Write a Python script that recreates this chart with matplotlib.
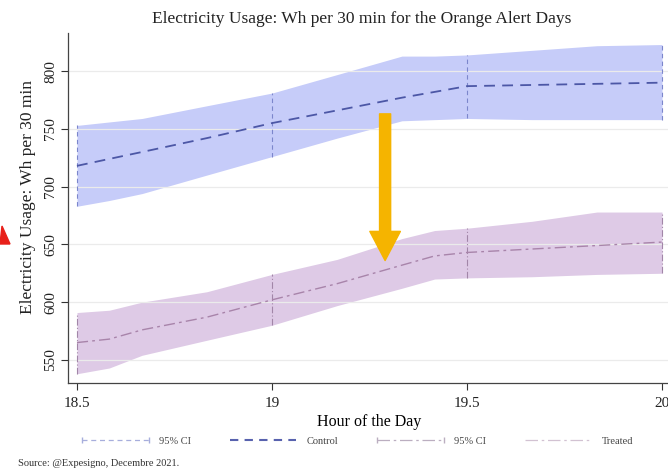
import numpy as np
import matplotlib
matplotlib.use("Agg")
import matplotlib.pyplot as plt
from matplotlib.lines import Line2D
from matplotlib.patches import Polygon

plt.rcParams['font.family'] = ['Liberation Serif', 'DejaVu Serif']

# Data (Wh per 30 min)
hours = [18.5, 18.583, 18.667, 18.833, 19.0, 19.167, 19.333, 19.417, 19.5, 19.667, 19.833, 20.0]

control_mean = [718, 724, 730, 742, 755, 766, 777, 782, 787, 788, 789, 790]
control_upper = [753, 756, 759, 770, 781, 797, 813, 813, 814, 818, 822, 823]
control_lower = [683, 688, 694, 710, 726, 742, 757, 758, 759, 758, 758, 758]

treated_mean = [565, 568, 576, 587, 602, 616, 632, 640, 643, 646, 649, 652]
treated_upper = [591, 593, 600, 609, 624, 637, 655, 662, 664, 670, 678, 678]
treated_lower = [538, 543, 554, 567, 580, 597, 612, 620, 621, 622, 624, 625]

cap_hours = [18.5, 19.0, 19.5, 20.0]
x_ticks = [18.5, 19, 19.5, 20]
x_tick_labels = ['18.5', '19', '19.5', '20']
y_ticks = [550, 600, 650, 700, 750, 800]

title = "Electricity Usage: Wh per 30 min for the Orange Alert Days"
source = "Source: @Expesigno, Decembre 2021."

# colours
ctrl_fill = '#C6CCF9'
ctrl_line = '#4C57A6'
ctrl_cap = '#7C86CC'
trt_fill = '#DECAE6'
trt_line = '#A884AA'
trt_cap = '#A286A8'

W, H = 668, 472
fig = plt.figure(figsize=(W / 100, H / 100), dpi=100)
ax = fig.add_axes([68 / W, 1 - 383 / H, (671 - 68) / W, (383 - 33) / H])

h = np.array(hours)
cap_idx = [int(np.argmin(np.abs(h - c))) for c in cap_hours]

ax.fill_between(hours, control_lower, control_upper, color=ctrl_fill, lw=0, zorder=1)
ax.fill_between(hours, treated_lower, treated_upper, color=trt_fill, lw=0, zorder=1)

# grid over the bands, like the original
for yt in y_ticks:
    ax.axhline(yt, color='#EBEBEB', lw=0.9, zorder=1.5)

ax.vlines([hours[i] for i in cap_idx], [control_lower[i] for i in cap_idx],
          [control_upper[i] for i in cap_idx], colors=ctrl_cap, linestyles=(0, (4, 3)), lw=0.8, zorder=2)
ax.vlines([hours[i] for i in cap_idx], [treated_lower[i] for i in cap_idx],
          [treated_upper[i] for i in cap_idx], colors=trt_cap, linestyles=(0, (6, 2, 1, 2)), lw=0.8, zorder=2)

ax.plot(hours, control_mean, color=ctrl_line, lw=1.3, ls=(0, (6, 4)), zorder=3)
ax.plot(hours, treated_mean, color=trt_line, lw=1.0, ls=(0, (8, 3, 2, 3)), zorder=3)

# orange arrow
ax.annotate('', xy=(19.29, 636), xytext=(19.29, 763),
            arrowprops=dict(width=8, headwidth=22, headlength=21, color='#F5B400', shrink=0),
            zorder=4)

ax.set_xlim(18.477, 20.023)
ax.set_ylim(530, 833)
ax.set_xticks(x_ticks)
ax.set_xticklabels(x_tick_labels, fontsize=11)
ax.set_yticks(y_ticks)
ax.set_yticklabels([str(v) for v in y_ticks], fontsize=11, rotation=90, va='center')
ax.tick_params(axis='both', direction='out', length=5, width=0.8, colors='#333333', labelcolor='#222222')
ax.tick_params(axis='x', pad=5)
ax.tick_params(axis='y', pad=3)
for s in ['top', 'right']:
    ax.spines[s].set_visible(False)
for s in ['left', 'bottom']:
    ax.spines[s].set_color('#444444')
    ax.spines[s].set_linewidth(0.9)

ax.set_xlabel('Hour of the Day', fontsize=11.5, labelpad=3)
ax.set_ylabel('Electricity Usage: Wh per 30 min', fontsize=12.5, color='#222222')
ax.yaxis.set_label_coords(-(68 - 36) / (671 - 68), (383 - 197) / (383 - 33))

fig.text(362 / W, 1 - 19 / H, title, fontsize=12.5, ha='center', va='center', color='#222222')

handles = [
    Line2D([0], [0], color='#A7AEDC', lw=0.9, ls=(0, (4, 3)), marker='|', markersize=4),
    Line2D([0], [0], color='#5862AE', lw=1.5, ls=(0, (4, 3))),
    Line2D([0], [0], color='#BBAEC0', lw=0.9, ls=(0, (10, 3, 2, 3)), marker='|', markersize=4),
    Line2D([0], [0], color='#D2C2D2', lw=0.9, ls=(0, (10, 3, 2, 3))),
]
labels = ['95% CI', 'Control', '95% CI', 'Treated']
fig.legend(handles, labels, loc='center', bbox_to_anchor=(356 / W, 1 - 441 / H), ncol=4,
           frameon=False, fontsize=7.5, numpoints=2, handlelength=7, handletextpad=0.7,
           columnspacing=3.4, labelcolor='#444444')

fig.text(18 / W, 1 - 463 / H, source, fontsize=7.5, ha='left', va='center', color='#333333')

# red arrow fragment at left edge
fig.patches.append(Polygon([(0, 1 - 244 / H), (10 / W, 1 - 244 / H), (2 / W, 1 - 226 / H)],
                           closed=True, transform=fig.transFigure, color='#E8201A'))

fig.savefig('out.png', dpi=100, facecolor='white')
